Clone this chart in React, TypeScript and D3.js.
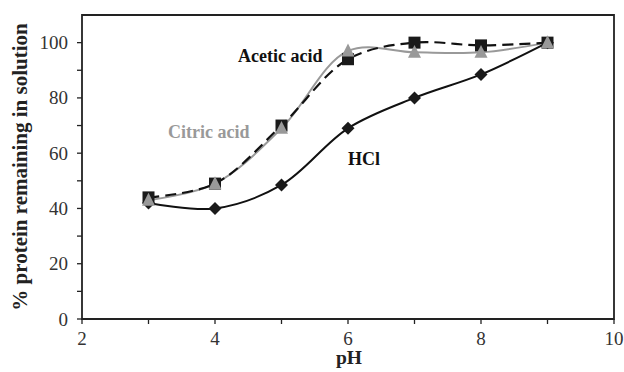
import React from "react";
import * as d3 from "d3";

const phValues = [3, 4, 5, 6, 7, 8, 9];
const hclValues = [42, 40, 48.5, 69, 80, 88.5, 100];
const aceticValues = [44, 49, 70, 94, 100, 99, 100];
const citricValues = [43, 49, 69, 97, 96.5, 96.5, 100];
const xTicks = [2, 4, 6, 8, 10];
const xMinorTicks = [3, 5, 7, 9];
const yTicks = [0, 20, 40, 60, 80, 100];
const yMinorTicks = [10, 30, 50, 70, 90];

const W = 624;
const H = 372;
const left = 82;
const right = 614;
const top = 15;
const bottom = 319;

export default function App() {
  const x = d3.scaleLinear().domain([2, 10]).range([left, right]);
  const y = d3.scaleLinear().domain([0, 110]).range([bottom, top]);
  const line = d3
    .line<number>()
    .x((_, i) => x(phValues[i]))
    .y((d) => y(d))
    .curve(d3.curveCatmullRom.alpha(0.5));

  const font = "'Liberation Serif', 'Times New Roman', serif";
  const tickColor = "#333";
  const gray = "#999";

  const diamond = (cx: number, cy: number, r: number) =>
    `M${cx},${cy - r}L${cx + r},${cy}L${cx},${cy + r}L${cx - r},${cy}Z`;
  const tri = (cx: number, cy: number, s: number) => {
    const h = s * 0.95;
    return `M${cx},${cy - h * 0.6}L${cx + s / 2},${cy + h * 0.45}L${cx - s / 2},${cy + h * 0.45}Z`;
  };

  return (
    <svg
      width={W}
      height={H}
      style={{ position: "absolute", left: 0, top: 0, background: "#fff" }}
      fontFamily={font}
    >
      {/* frame */}
      <path
        d={`M${left},${bottom}V${top}H${right}V${bottom}Z`}
        fill="none"
        stroke="#222"
        strokeWidth={1.8}
      />
      {/* x ticks */}
      {xTicks.map((t) => (
        <g key={"xt" + t}>
          <line x1={x(t)} x2={x(t)} y1={bottom} y2={bottom + 5} stroke="#222" strokeWidth={1.3} />
          <text x={x(t)} y={345} textAnchor="middle" fontSize={19} fill={tickColor}>
            {t}
          </text>
        </g>
      ))}
      {xMinorTicks.map((t) => (
        <line key={"xm" + t} x1={x(t)} x2={x(t)} y1={bottom} y2={bottom + 5} stroke="#222" strokeWidth={1.3} />
      ))}
      {/* y ticks */}
      {yTicks.map((t) => (
        <g key={"yt" + t}>
          <line x1={left - 5} x2={left} y1={y(t)} y2={y(t)} stroke="#222" strokeWidth={1.3} />
          <text x={68} y={y(t) + 6.5} textAnchor="end" fontSize={19} fill={tickColor}>
            {t}
          </text>
        </g>
      ))}
      {yMinorTicks.map((t) => (
        <line key={"ym" + t} x1={left - 5} x2={left} y1={y(t)} y2={y(t)} stroke="#222" strokeWidth={1.3} />
      ))}
      {/* axis titles */}
      <text x={349} y={364} textAnchor="middle" fontSize={19.5} fontWeight="bold" fill="#222">
        pH
      </text>
      <text
        transform={`translate(27,167) rotate(-90)`}
        textAnchor="middle"
        fontSize={21}
        fontWeight="bold"
        fill="#222"
      >
        % protein remaining in solution
      </text>

      {/* lines */}
      <path d={line(hclValues) || ""} fill="none" stroke="#111" strokeWidth={2} />
      <path d={line(citricValues) || ""} fill="none" stroke={gray} strokeWidth={2} />
      <path
        d={line(aceticValues) || ""}
        fill="none"
        stroke="#111"
        strokeWidth={2.2}
        strokeDasharray="11,6"
      />

      {/* markers */}
      {hclValues.map((v, i) => (
        <path key={"hd" + i} d={diamond(x(phValues[i]), y(v), 6.5)} fill="#1a1a1a" />
      ))}
      {aceticValues.map((v, i) => (
        <rect
          key={"as" + i}
          x={x(phValues[i]) - 6}
          y={y(v) - 6}
          width={12}
          height={12}
          fill="#1a1a1a"
        />
      ))}
      {citricValues.map((v, i) => (
        <path key={"ct" + i} d={tri(x(phValues[i]), y(v), 13)} fill={gray} />
      ))}

      {/* series labels */}
      <text x={238} y={62} fontSize={18} fontWeight="bold" fill="#111">
        Acetic acid
      </text>
      <text x={168} y={138} fontSize={18} fontWeight="bold" fill={gray}>
        Citric acid
      </text>
      <text x={348} y={165} fontSize={18} fontWeight="bold" fill="#111">
        HCl
      </text>
    </svg>
  );
}
